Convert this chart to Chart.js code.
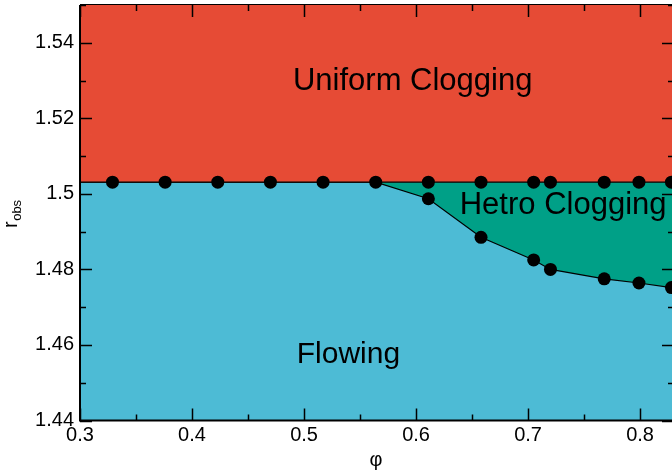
<!DOCTYPE html>
<html>
<head>
<meta charset="utf-8">
<script src="https://cdn.jsdelivr.net/npm/chart.js@4.4.1/dist/chart.umd.min.js"></script>
<style>
  body { margin: 0; background: #fff; overflow: hidden; }
  canvas { display: block; }
</style>
</head>
<body>
<canvas id="phaseChart" width="672" height="474"></canvas>
<script>
// phase boundary values
const phiTop = [0.329, 0.376, 0.423, 0.470, 0.517, 0.564, 0.611, 0.658, 0.705, 0.720, 0.768, 0.799, 0.828];
const rClog = 1.5031; // uniform clogging onset
const phiLow = [0.564, 0.611, 0.658, 0.705, 0.720, 0.768, 0.799, 0.828];
const rLow = [1.5031, 1.4987, 1.4885, 1.4825, 1.4800, 1.4775, 1.4764, 1.4752];

const xTicks = [0.3, 0.4, 0.5, 0.6, 0.7, 0.8];
const xTickLabels = ['0.3', '0.4', '0.5', '0.6', '0.7', '0.8'];
const yTicks = [1.44, 1.46, 1.48, 1.50, 1.52, 1.54];
const yTickLabels = ['1.44', '1.46', '1.48', '1.5', '1.52', '1.54'];

const xMin = 0.3, xMax = 0.8285;
const yMin = 1.44, yMax = 1.55;

const regionLabels = [
    { text: 'Uniform Clogging', x: 0.597, y: 1.5274 },
    { text: 'Hetro Clogging', x: 0.7313, y: 1.4947 },
    { text: 'Flowing', x: 0.5396, y: 1.4553 }
];

const RED = '#E64B35';
const BLUE = '#4DBBD5';
const TEAL = '#00A087';
const FONT = '"Liberation Sans", Arial, sans-serif';

const ctx = document.getElementById('phaseChart').getContext('2d');

// teal background of the chart area (what is left between the two boundaries)
const areaBackground = {
    id: 'areaBackground',
    beforeDraw(chart) {
        const a = chart.chartArea;
        const c = chart.ctx;
        c.save();
        c.fillStyle = TEAL;
        c.fillRect(a.left, a.top, a.right - a.left, a.bottom - a.top);
        c.restore();
    }
};

// inward ticks on all four sides, frame, region labels, y title
const decorations = {
    id: 'decorations',
    afterDatasetsDraw(chart) {
        const a = chart.chartArea;
        const c = chart.ctx;
        const xs = chart.scales.x;
        const ys = chart.scales.y;
        c.save();
        c.strokeStyle = '#000';
        c.lineWidth = 1.5;

        const xMinor = xTicks.map(v => v + 0.05);
        const yMinor = yTicks.map(v => v + 0.01);

        function xTick(v, len) {
            if (v < xMin || v > xMax) return;
            const px = Math.round(xs.getPixelForValue(v)) + 0.5;
            c.beginPath();
            c.moveTo(px, a.bottom); c.lineTo(px, a.bottom - len);
            c.moveTo(px, a.top); c.lineTo(px, a.top + len);
            c.stroke();
        }
        function yTick(v, len) {
            if (v < yMin || v > yMax) return;
            const py = Math.round(ys.getPixelForValue(v)) + 0.5;
            c.beginPath();
            c.moveTo(a.left, py); c.lineTo(a.left + len, py);
            c.moveTo(a.right + 2, py); c.lineTo(a.right + 2 - len, py);
            c.stroke();
        }
        xTicks.forEach(v => xTick(v, 12));
        xMinor.forEach(v => xTick(v, 6));
        yTicks.forEach(v => yTick(v, 12));
        yMinor.forEach(v => yTick(v, 6));

        // frame
        c.lineWidth = 2;
        c.beginPath();
        c.moveTo(a.left, a.top); c.lineTo(a.left, a.bottom); c.lineTo(a.right, a.bottom);
        c.stroke();
        c.lineWidth = 1;
        c.beginPath();
        c.moveTo(a.left, a.top - 0.5); c.lineTo(a.right, a.top - 0.5);
        c.stroke();

        // region names
        c.fillStyle = '#000';
        c.textAlign = 'center';
        c.textBaseline = 'alphabetic';
        regionLabels.forEach(l => {
            c.font = (l.text === 'Flowing' ? '30px ' : '31px ') + FONT;
            c.fillText(l.text, xs.getPixelForValue(l.x), ys.getPixelForValue(l.y));
        });

        // y title r_obs
        c.translate(17, 228);
        c.rotate(-Math.PI / 2);
        c.textAlign = 'left';
        c.font = '20px ' + FONT;
        c.fillText('r', 0, 0);
        const w = c.measureText('r').width;
        c.font = '13px ' + FONT;
        c.fillText('obs', w + 0.5, 4);
        c.restore();
    }
};

function noPadding(scale) {
    scale.paddingTop = 0;
    scale.paddingBottom = 0;
    scale.paddingLeft = 0;
    scale.paddingRight = 0;
}

new Chart(ctx, {
    type: 'line',
    data: {
        datasets: [
            {
                type: 'scatter',
                data: phiTop.map(p => ({ x: p, y: rClog })),
                pointRadius: 6.5,
                pointBackgroundColor: '#000',
                pointBorderWidth: 0,
                showLine: false
            },
            {
                type: 'scatter',
                data: phiLow.slice(1).map((p, i) => ({ x: p, y: rLow[i + 1] })),
                pointRadius: 6.5,
                pointBackgroundColor: '#000',
                pointBorderWidth: 0,
                showLine: false
            },
            {
                // uniform clogging boundary
                data: [{ x: xMin, y: rClog }, { x: xMax, y: rClog }],
                borderColor: '#000',
                borderWidth: 1.2,
                pointRadius: 0,
                fill: 'end',
                backgroundColor: RED
            },
            {
                // flowing boundary
                data: [{ x: xMin, y: rClog }]
                    .concat(phiLow.map((p, i) => ({ x: p, y: rLow[i] })))
                    .concat([{ x: xMax, y: rLow[rLow.length - 1] }]),
                borderColor: '#000',
                borderWidth: 1.2,
                pointRadius: 0,
                fill: 'start',
                backgroundColor: BLUE
            }
        ]
    },
    options: {
        responsive: false,
        animation: false,
        layout: { autoPadding: false, padding: { top: 5, right: 0, left: 0, bottom: 0 } },
        plugins: {
            legend: { display: false },
            tooltip: { enabled: false }
        },
        scales: {
            x: {
                type: 'linear',
                min: xMin,
                max: xMax,
                grid: { display: false, drawTicks: false },
                border: { display: false },
                afterBuildTicks: scale => { scale.ticks = xTicks.map(v => ({ value: v })); },
                afterFit: scale => { scale.height = 53.5; noPadding(scale); },
                ticks: {
                    autoSkip: false,
                    maxRotation: 0,
                    padding: 3,
                    color: '#000',
                    font: { family: FONT, size: 20 },
                    callback: (v, i) => xTickLabels[i]
                },
                title: {
                    display: true,
                    text: 'φ',
                    color: '#000',
                    padding: { top: 0, bottom: 2 },
                    font: { family: FONT, size: 20 }
                }
            },
            y: {
                type: 'linear',
                min: yMin,
                max: yMax,
                grid: { display: false, drawTicks: false },
                border: { display: false },
                afterBuildTicks: scale => { scale.ticks = yTicks.map(v => ({ value: v })); },
                afterFit: scale => { scale.width = 80; noPadding(scale); },
                ticks: {
                    padding: 6,
                    color: '#000',
                    font: { family: FONT, size: 20 },
                    callback: (v, i) => yTickLabels[i]
                }
            }
        }
    },
    plugins: [areaBackground, decorations]
});
</script>
</body>
</html>
